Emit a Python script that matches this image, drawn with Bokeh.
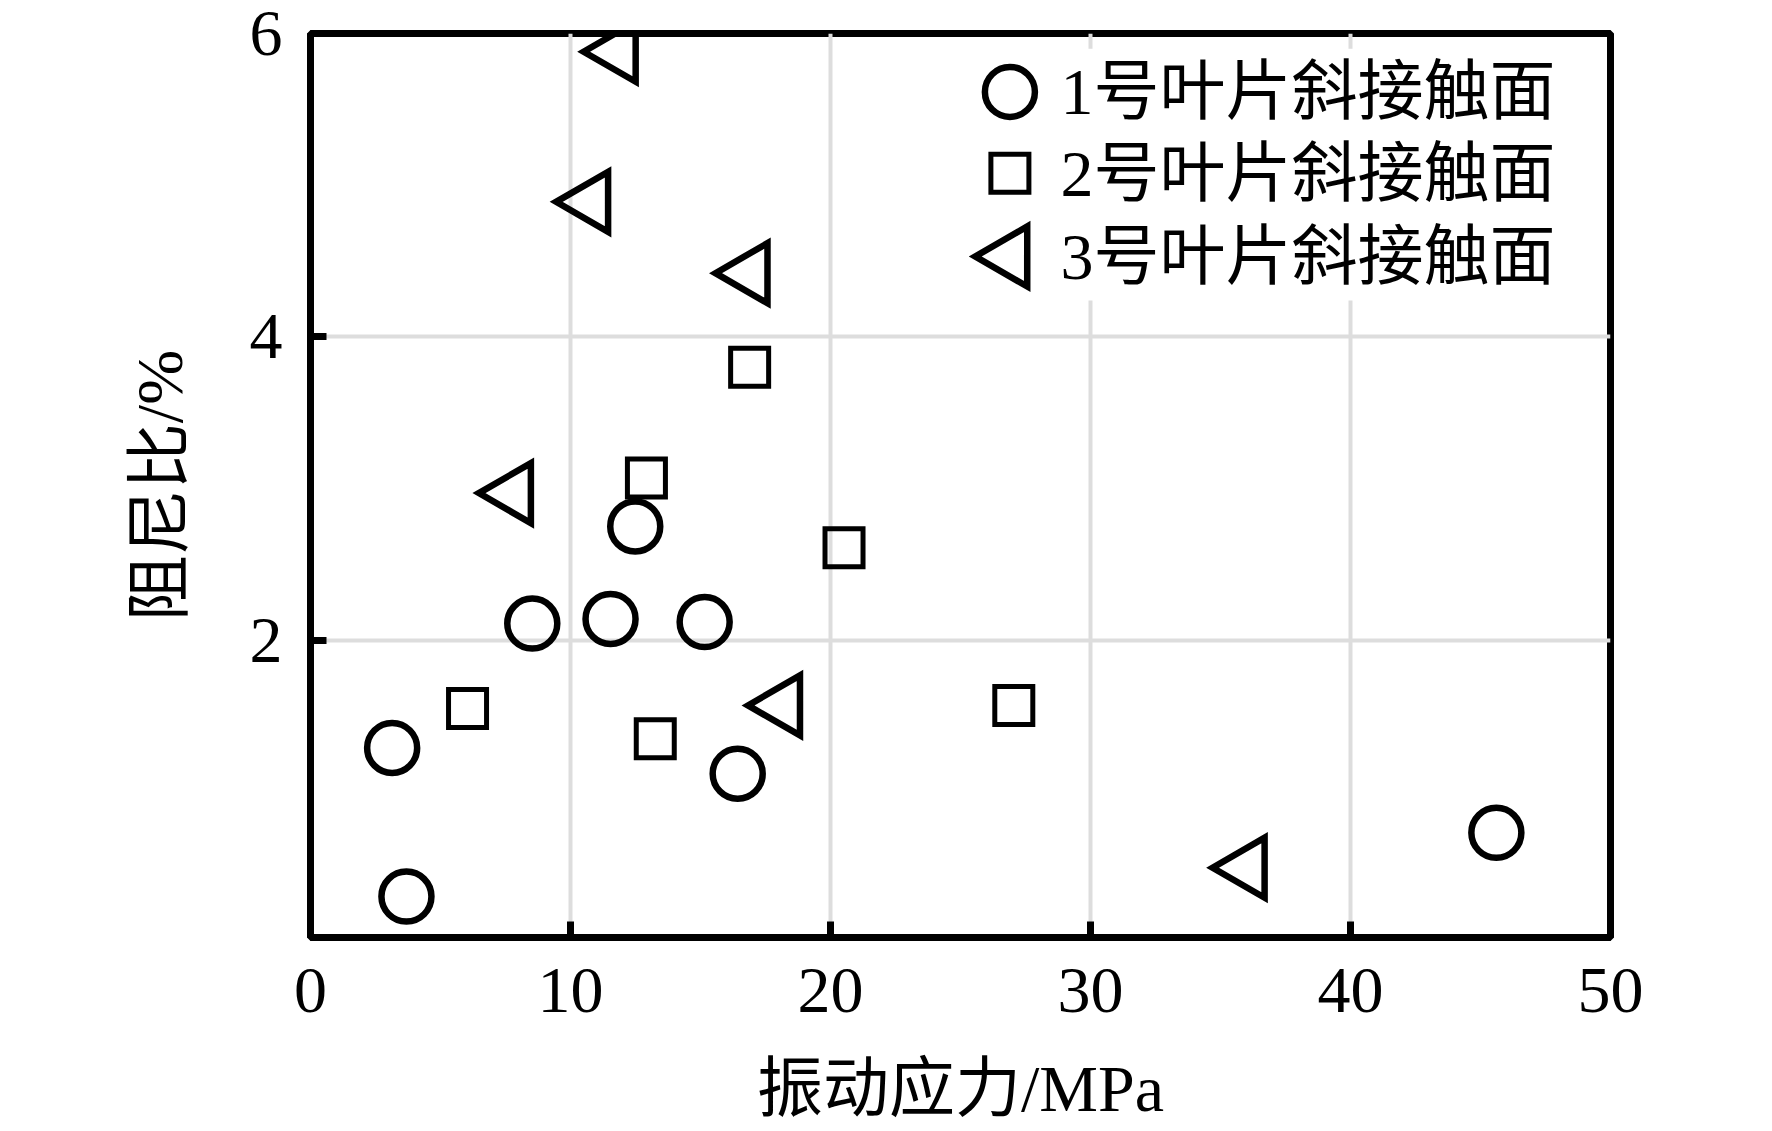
import math
from bokeh.plotting import figure
from bokeh.models import Range1d, FixedTicker
from bokeh.core.properties import value
from bokeh.embed import file_html
from bokeh.resources import INLINE

# ---- data ----
series_labels = ["1号叶片斜接触面", "2号叶片斜接触面", "3号叶片斜接触面"]

stress_1 = [3.14, 3.69, 8.53, 11.54, 15.16, 12.49, 16.43, 45.61]
damping_1 = [1.29, 0.31, 2.11, 2.14, 2.12, 2.75, 1.12, 0.73]

stress_2 = [6.04, 12.92, 13.26, 16.89, 20.52, 27.05]
damping_2 = [1.55, 3.07, 1.35, 3.80, 2.61, 1.57]

stress_3 = [11.84, 10.78, 16.91, 7.81, 18.16, 36.03]
damping_3 = [5.88, 4.89, 4.42, 2.97, 1.57, 0.50]

x_ticks = [0, 10, 20, 30, 40, 50]
y_ticks = [2, 4, 6]
x_title = "振动应力/MPa"
y_title = "阻尼比/%"

FONT = "Liberation Serif, Noto Sans CJK SC, serif"

# marker styles
circle_style = dict(marker="circle", size=50, fill_color=None, line_color="black", line_width=6.5)
square_style = dict(marker="square", size=38, fill_color=None, line_color="black",
                    line_width=5, line_join="miter")
tri_style = dict(marker="triangle", size=60, angle=math.pi / 2, fill_color=None,
                 line_color="black", line_width=6.5, line_join="miter")

p = figure(width=1756, height=1131, output_backend="svg", toolbar_location=None,
           x_range=Range1d(0, 50), y_range=Range1d(0.04, 6.0),
           min_border_left=310, min_border_right=146,
           min_border_top=33, min_border_bottom=194)
p.background_fill_color = "white"
p.border_fill_color = "white"
p.outline_line_color = "black"
p.outline_line_width = 7

p.xaxis.ticker = FixedTicker(ticks=x_ticks)
p.yaxis.ticker = FixedTicker(ticks=y_ticks)
p.xgrid.ticker = FixedTicker(ticks=x_ticks)
p.ygrid.ticker = FixedTicker(ticks=y_ticks)
for g in (p.xgrid, p.ygrid):
    g.grid_line_color = "#dddddd"
    g.grid_line_width = 4

for ax in (p.xaxis, p.yaxis):
    ax.axis_line_color = "black"
    ax.axis_line_width = 7
    ax.major_tick_in = 16
    ax.major_tick_out = 0
    ax.major_tick_line_width = 7
    ax.major_tick_line_color = "black"
    ax.minor_tick_line_color = None
    ax.major_label_text_font = FONT
    ax.major_label_text_font_size = "66px"
    ax.major_label_text_color = "black"
    ax.axis_label_text_font = FONT
    ax.axis_label_text_font_size = "66px"
    ax.axis_label_text_font_style = "normal"
    ax.axis_label_text_color = "black"

p.xaxis.axis_label = x_title
p.yaxis.axis_label = y_title
p.xaxis.major_label_standoff = 31
p.yaxis.major_label_standoff = 28
p.xaxis.axis_label_standoff = 37
p.yaxis.axis_label_standoff = 51

# ---- data marks ----
p.scatter(stress_1, damping_1, **circle_style)
p.scatter(stress_2, damping_2, **square_style)
p.scatter(stress_3, damping_3, **tri_style)

# ---- legend (drawn in the upper right, on a white panel hiding the grid) ----
LEG_LEFT, LEG_RIGHT, LEG_TOP, LEG_BOTTOM = 24.6, 48.6, 5.90, 4.24
LEG_MARK_X = 26.9
LEG_TEXT_X = 28.85
LEG_ROWS_Y = [5.615, 5.078, 4.53]

p.quad(left=[LEG_LEFT], right=[LEG_RIGHT], top=[LEG_TOP], bottom=[LEG_BOTTOM],
       fill_color="white", line_color=None)
p.scatter([LEG_MARK_X], [LEG_ROWS_Y[0]], **circle_style)
p.scatter([LEG_MARK_X], [LEG_ROWS_Y[1]], **square_style)
p.scatter([LEG_MARK_X], [LEG_ROWS_Y[2]], **tri_style)
p.text(x=[LEG_TEXT_X] * 3, y=LEG_ROWS_Y, text=series_labels,
       text_font=value(FONT), text_font_size="66px", text_color="black",
       text_align="left", text_baseline="middle")

open("out.html", "w").write(file_html(p, INLINE))
